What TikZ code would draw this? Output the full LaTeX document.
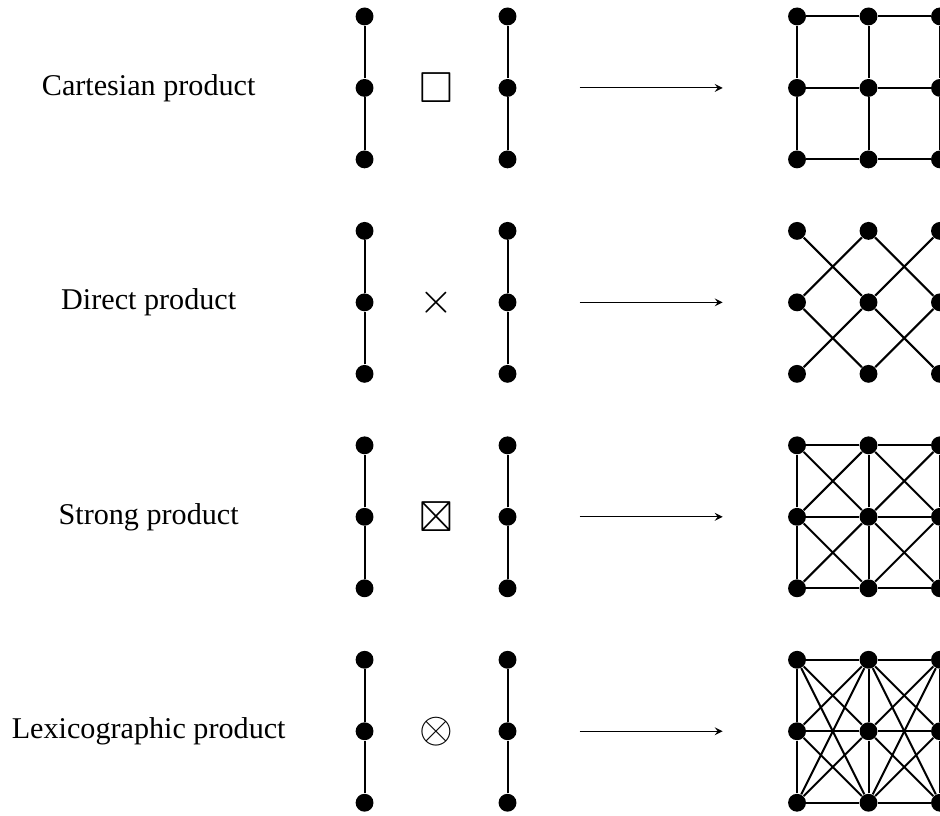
\documentclass[tikz,border=0pt]{standalone}
\usepackage{amsmath, amssymb}
\usepackage{fontspec}
\setmainfont{Liberation Serif}
\usepackage{tikz}
\usetikzlibrary{arrows}

\begin{document}
\begin{tikzpicture}[scale=1.0,
  vertex/.style={circle,fill,inner sep=0pt,minimum size=0.25cm},
  edge/.style={line width=0.8pt},
  opsign/.style={font=\LARGE},
  >=stealth]
  \useasboundingbox (0,1.23) rectangle (13.15,-10.18);
  \clip (0,1.23) rectangle (13.15,-10.18);

  % one row per product: label, P3 op P3, arrow, 3x3 result
  \foreach \r/\prodname/\opsym in {0/Cartesian/\square, 1/Direct/\times,
      2/Strong/\boxtimes, 3/Lexicographic/\otimes} {
    \node[font=\large] (lab\r) at (2.08,-3*\r) {\prodname{} product};
    \foreach \j in {0,1,2} {
      \node[vertex] (a\r-\j) at (5.1,-3*\r+1-\j) {};
      \node[vertex] (b\r-\j) at (7.1,-3*\r+1-\j) {};
    }
    \draw[edge] (a\r-0) -- (a\r-1) -- (a\r-2);
    \draw[edge] (b\r-0) -- (b\r-1) -- (b\r-2);
    \node[opsign] (op\r) at (6.11,-3*\r) {$\opsym$};
    \coordinate (from\r) at (8.11,-3*\r);
    \coordinate (to\r) at (10.11,-3*\r);
    \draw[->,thin] (from\r) -- (to\r);
    \foreach \i in {0,1,2}
      \foreach \j in {0,1,2}
        \node[vertex] (g\r-\i-\j) at (11.15+\i,-3*\r+1-\j) {};
  }

  % cartesian: grid edges
  \foreach \i in {0,1,2}
    \foreach \j/\k in {0/1,1/2} {
      \draw[edge] (g0-\i-\j) -- (g0-\i-\k);
      \draw[edge] (g0-\j-\i) -- (g0-\k-\i);
    }

  % direct: diagonals only
  \foreach \i/\ii in {0/1,1/2}
    \foreach \j/\k in {0/1,1/2} {
      \draw[edge] (g1-\i-\j) -- (g1-\ii-\k);
      \draw[edge] (g1-\i-\k) -- (g1-\ii-\j);
    }

  % strong: grid plus diagonals
  \foreach \i in {0,1,2}
    \foreach \j/\k in {0/1,1/2} {
      \draw[edge] (g2-\i-\j) -- (g2-\i-\k);
      \draw[edge] (g2-\j-\i) -- (g2-\k-\i);
    }
  \foreach \i/\ii in {0/1,1/2}
    \foreach \j/\k in {0/1,1/2} {
      \draw[edge] (g2-\i-\j) -- (g2-\ii-\k);
      \draw[edge] (g2-\i-\k) -- (g2-\ii-\j);
    }

  % lexicographic: columns are paths, neighbouring columns fully joined
  \foreach \i in {0,1,2}
    \foreach \j/\k in {0/1,1/2}
      \draw[edge] (g3-\i-\j) -- (g3-\i-\k);
  \foreach \i/\ii in {0/1,1/2}
    \foreach \j in {0,1,2}
      \foreach \k in {0,1,2}
        \draw[edge] (g3-\i-\j) -- (g3-\ii-\k);
\end{tikzpicture}
\end{document}
